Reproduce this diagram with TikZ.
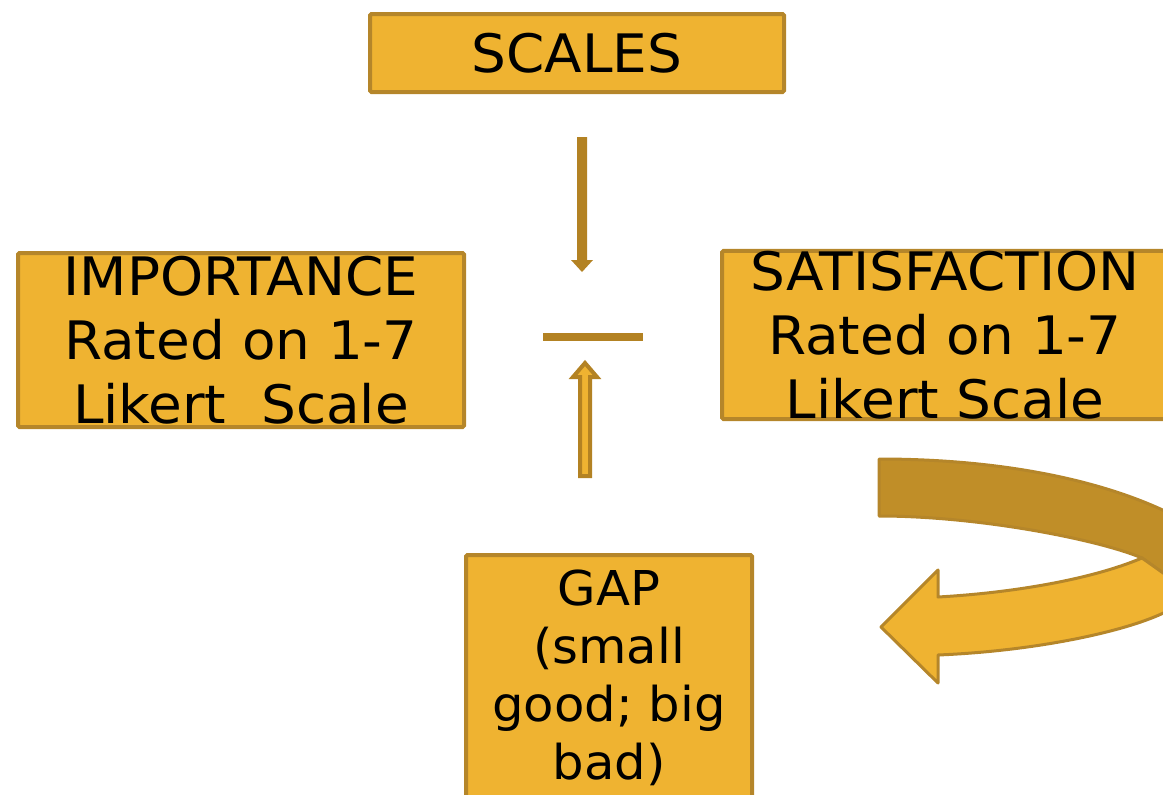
\documentclass[tikz,border=0pt]{standalone}
\usepackage{fontspec}
\setmainfont[FakeStretch=1.035]{DejaVu Sans}
\definecolor{boxfill}{HTML}{EFB331}
\definecolor{boxline}{HTML}{B5862A}
\definecolor{darkband}{HTML}{C08E28}
\definecolor{arrowdark}{HTML}{B38223}
\begin{document}
\begin{tikzpicture}[x=1pt,y=-1pt,
  box/.style={draw=boxline, fill=boxfill, line width=4pt, rounded corners=1.5pt,
              inner sep=0pt, align=center, text=black},
  big/.style={font=\fontsize{53}{64}\selectfont},
  mid/.style={font=\fontsize{48}{58}\selectfont},
  solidarrow/.style={fill=arrowdark},
  hollowarrow/.style={draw=arrowdark, fill=boxfill, line width=4pt, line join=miter},
  ribbonback/.style={draw=boxline, fill=darkband, line width=3pt, line join=round},
  ribbonfront/.style={draw=boxline, fill=boxfill, line width=3pt, line join=round}]
\useasboundingbox (0,0) rectangle (1163,795);
\clip (0,0) rectangle (1163,795);

% boxes
\node[box, big, minimum width=414pt, minimum height=78pt] (scales) at (577,53) {SCALES};
\node[box, big, minimum width=446pt, minimum height=174pt] (imp) at (241,340)
  {IMPORTANCE\\Rated on 1-7\\Likert\ \ Scale};
\node[box, big, minimum width=446pt, minimum height=164pt] (sat) at (945,335)
  {SATISFACTION\\Rated on 1-7\\Likert Scale};
\node[box, mid, minimum width=286pt, minimum height=245pt] (gap) at (609,677.5)
  {GAP\\(small\\good; big\\bad)};

% central arrows and bar
\fill[solidarrow] (577,137) -- (587,137) -- (587,260) -- (593,260) -- (582,272)
  -- (571,260) -- (577,260) -- cycle;
\fill[solidarrow] (543,333) rectangle (643,341);
\draw[hollowarrow] (580,476) -- (590,476) -- (590,377) -- (597,377) -- (585,363)
  -- (573,377) -- (580,377) -- cycle;

% U-turn ribbon arrow
\coordinate (fold) at (1142,558);
\draw[ribbonback] (879,459) .. controls (1000,459) and (1120,480) .. (1200,530)
  -- (1200,600) -- (fold) .. controls (1100,540) and (980,516) .. (879,516) -- cycle;
\draw[ribbonfront] (fold) -- (1190,592) .. controls (1180,620) and (1060,650) .. (938,655)
  -- (938,683) -- (881,627) -- (938,570) -- (938,597)
  .. controls (1010,593) and (1090,580) .. (fold) -- cycle;
\end{tikzpicture}
\end{document}
